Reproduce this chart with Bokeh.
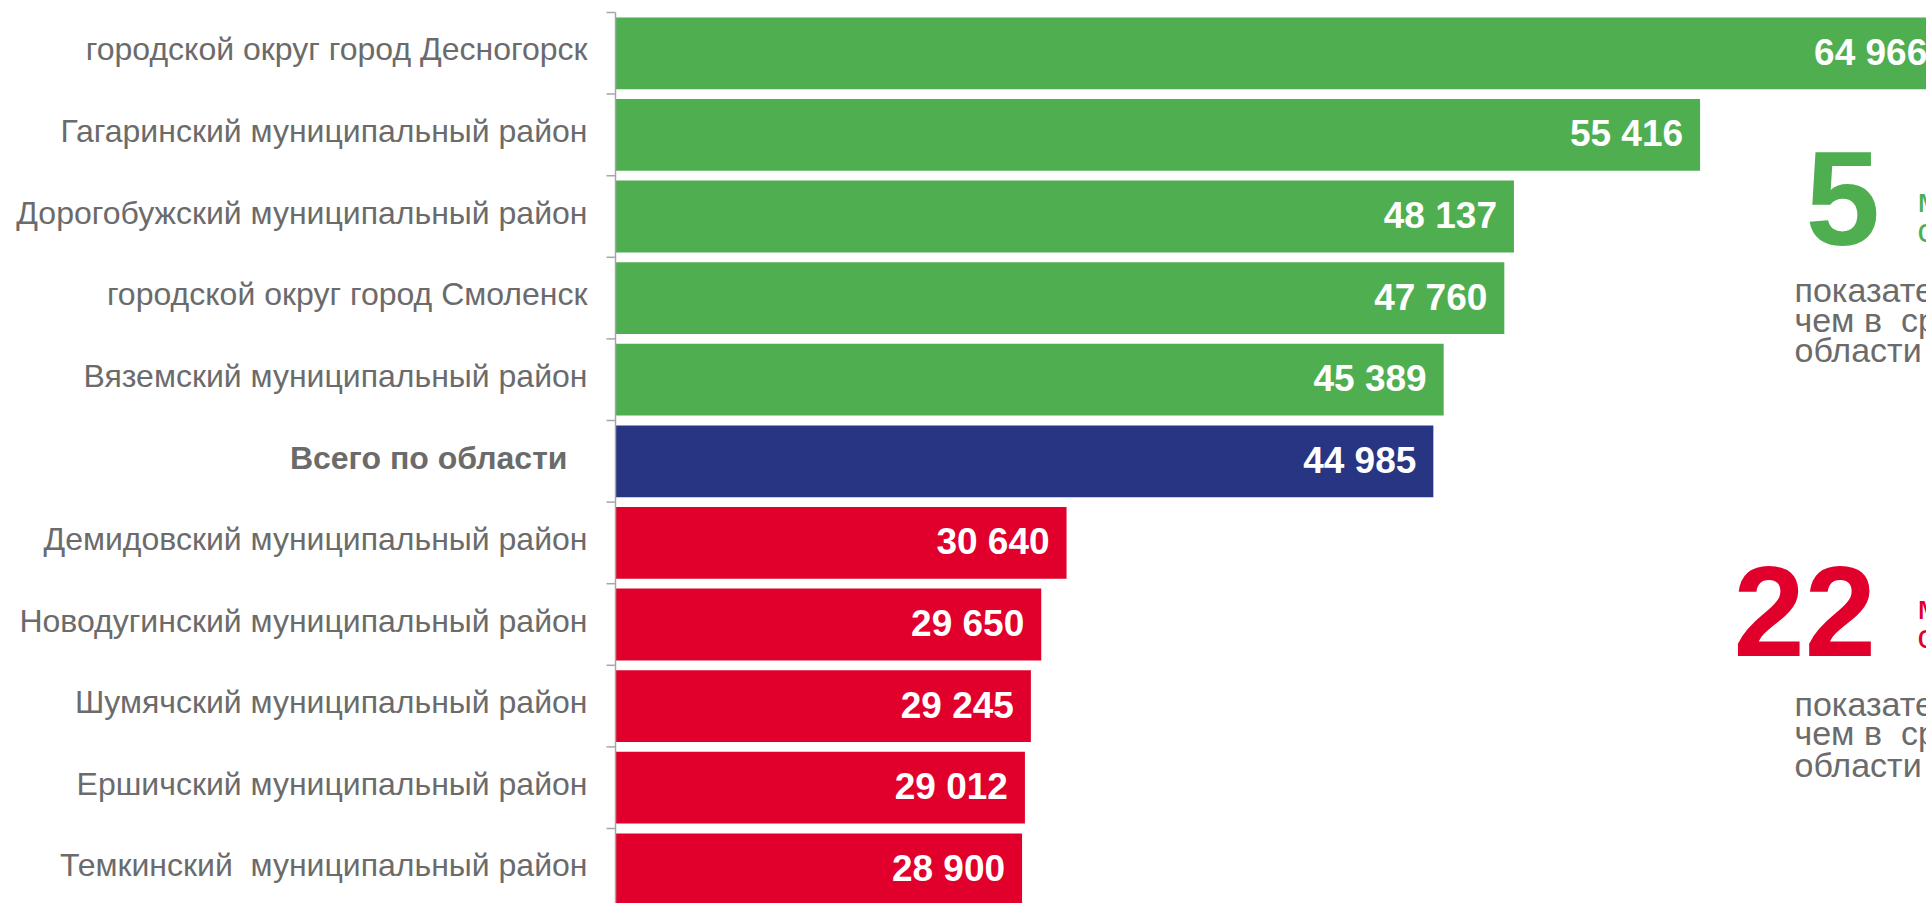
from bokeh.plotting import figure
from bokeh.models import Range1d
from bokeh.core.properties import value
from bokeh.embed import file_html
from bokeh.resources import INLINE

# ---- data ----
categories = [
    "городской округ город Десногорск",
    "Гагаринский муниципальный район",
    "Дорогобужский муниципальный район",
    "городской округ город Смоленск",
    "Вяземский муниципальный район",
    "Всего по области",
    "Демидовский муниципальный район",
    "Новодугинский муниципальный район",
    "Шумячский муниципальный район",
    "Ершичский муниципальный район",
    "Темкинский  муниципальный район",
]
values = [64966, 55416, 48137, 47760, 45389, 44985, 30640, 29650, 29245, 29012, 28900]
total_label = "Всего по области"
above_count = "5"
below_count = "22"

GREEN = "#4FAE50"
NAVY = "#283583"
RED = "#E0002B"
GRAY = "#6B6B6B"
AXIS = "#A6A6A6"
FONT = "Liberation Sans"

def keep_spaces(s):
    # SVG collapses runs of spaces; keep the double space visible
    return s.replace("  ", " \u00a0")

total_idx = categories.index(total_label)
total_value = values[total_idx]
colors = [NAVY if c == total_label else (GREEN if v > total_value else RED)
          for c, v in zip(categories, values)]
labels = [f"{v:,}".replace(",", " ") for v in values]
idx = list(range(len(categories)))

# ---- geometry ----
W, H = 1926, 903
AXIS_PX = 615             # px of the value axis inside the figure
X_START = 13000           # value at which the axis (bar base) sits
PX_PER_UNIT = 0.02557
BAND = 81.6
TOP_TICK = 12             # px of first band boundary

x_lo = X_START - AXIS_PX / PX_PER_UNIT
x_hi = X_START + (W - AXIS_PX) / PX_PER_UNIT
y_top = -0.5 - TOP_TICK / BAND
y_bottom = -0.5 + (H - TOP_TICK) / BAND

def dx(px):
    return X_START + (px - AXIS_PX) / PX_PER_UNIT

def dy(py):
    return -0.5 + (py - TOP_TICK) / BAND

p = figure(width=W, height=H, output_backend="svg", toolbar_location=None,
           x_range=Range1d(x_lo, x_hi), y_range=Range1d(y_bottom, y_top),
           x_axis_location=None, y_axis_location=None,
           min_border_left=0, min_border_right=0,
           min_border_top=0, min_border_bottom=0)
p.outline_line_color = None
p.xgrid.visible = False
p.ygrid.visible = False
p.background_fill_color = "white"
p.border_fill_color = "white"

# bars
p.hbar(y=idx, left=X_START, right=values, height=0.88,
       fill_color=colors, line_color=None)

# value labels inside bars
p.text(x=values, y=idx, text=labels, x_offset=-17, y_offset=-1,
       text_align="right", text_baseline="middle",
       text_color="white", text_font_size="37px", text_font_style="bold",
       text_font=value(FONT))

# category labels
reg_y = [i for i in idx if i != total_idx]
reg_t = [keep_spaces(categories[i]) for i in reg_y]
p.text(x=[X_START] * len(reg_y), y=reg_y, text=reg_t, x_offset=-28, y_offset=-4,
       text_align="right", text_baseline="middle", text_color=GRAY,
       text_font_size="32px", text_font=value(FONT))
p.text(x=[X_START], y=[total_idx], text=[total_label], x_offset=-48, y_offset=-3,
       text_align="right", text_baseline="middle", text_color=GRAY,
       text_font_size="32px", text_font_style="bold", text_font=value(FONT))

# value axis line and ticks at band boundaries
bounds = [i - 0.5 for i in idx]
p.segment(x0=[X_START], y0=[-0.5], x1=[X_START], y1=[y_bottom + 1],
          line_color=AXIS, line_width=1.5)
p.ray(x=[X_START] * len(bounds), y=bounds, length=9, length_units="screen",
      angle=180, angle_units="deg", line_color=AXIS, line_width=1.5)

def note(text, px, py, size, color, bold=False):
    # py = desired baseline; compensate renderer's alphabetic offset
    k = 0.37 if size > 60 else 0.30
    p.text(x=[dx(px)], y=[dy(py - k * size)], text=[keep_spaces(text)], text_align="left",
           text_baseline="alphabetic", text_font_size=f"{size}px",
           text_font_style="bold" if bold else "normal",
           text_color=color, text_font=value(FONT))

# block: above average
note(above_count, 1805, 248, 134, GREEN, bold=True)
note("муниципальных", 1917, 210, 34, GREEN)
note("образований", 1917, 240, 34, GREEN)
note("показатель выше,", 1794, 300, 34, GRAY)
note("чем в  среднем по", 1794, 330, 34, GRAY)
note("области", 1794, 360, 34, GRAY)

# block: below average
note(below_count, 1733, 658, 128, RED, bold=True)
note("муниципальных", 1917, 617, 34, RED)
note("образования", 1917, 646, 34, RED)
note("показатель ниже,", 1794, 714, 34, GRAY)
note("чем в  среднем по", 1794, 743, 34, GRAY)
note("области", 1794, 775, 34, GRAY)

open("out.html", "w").write(file_html(p, INLINE))
